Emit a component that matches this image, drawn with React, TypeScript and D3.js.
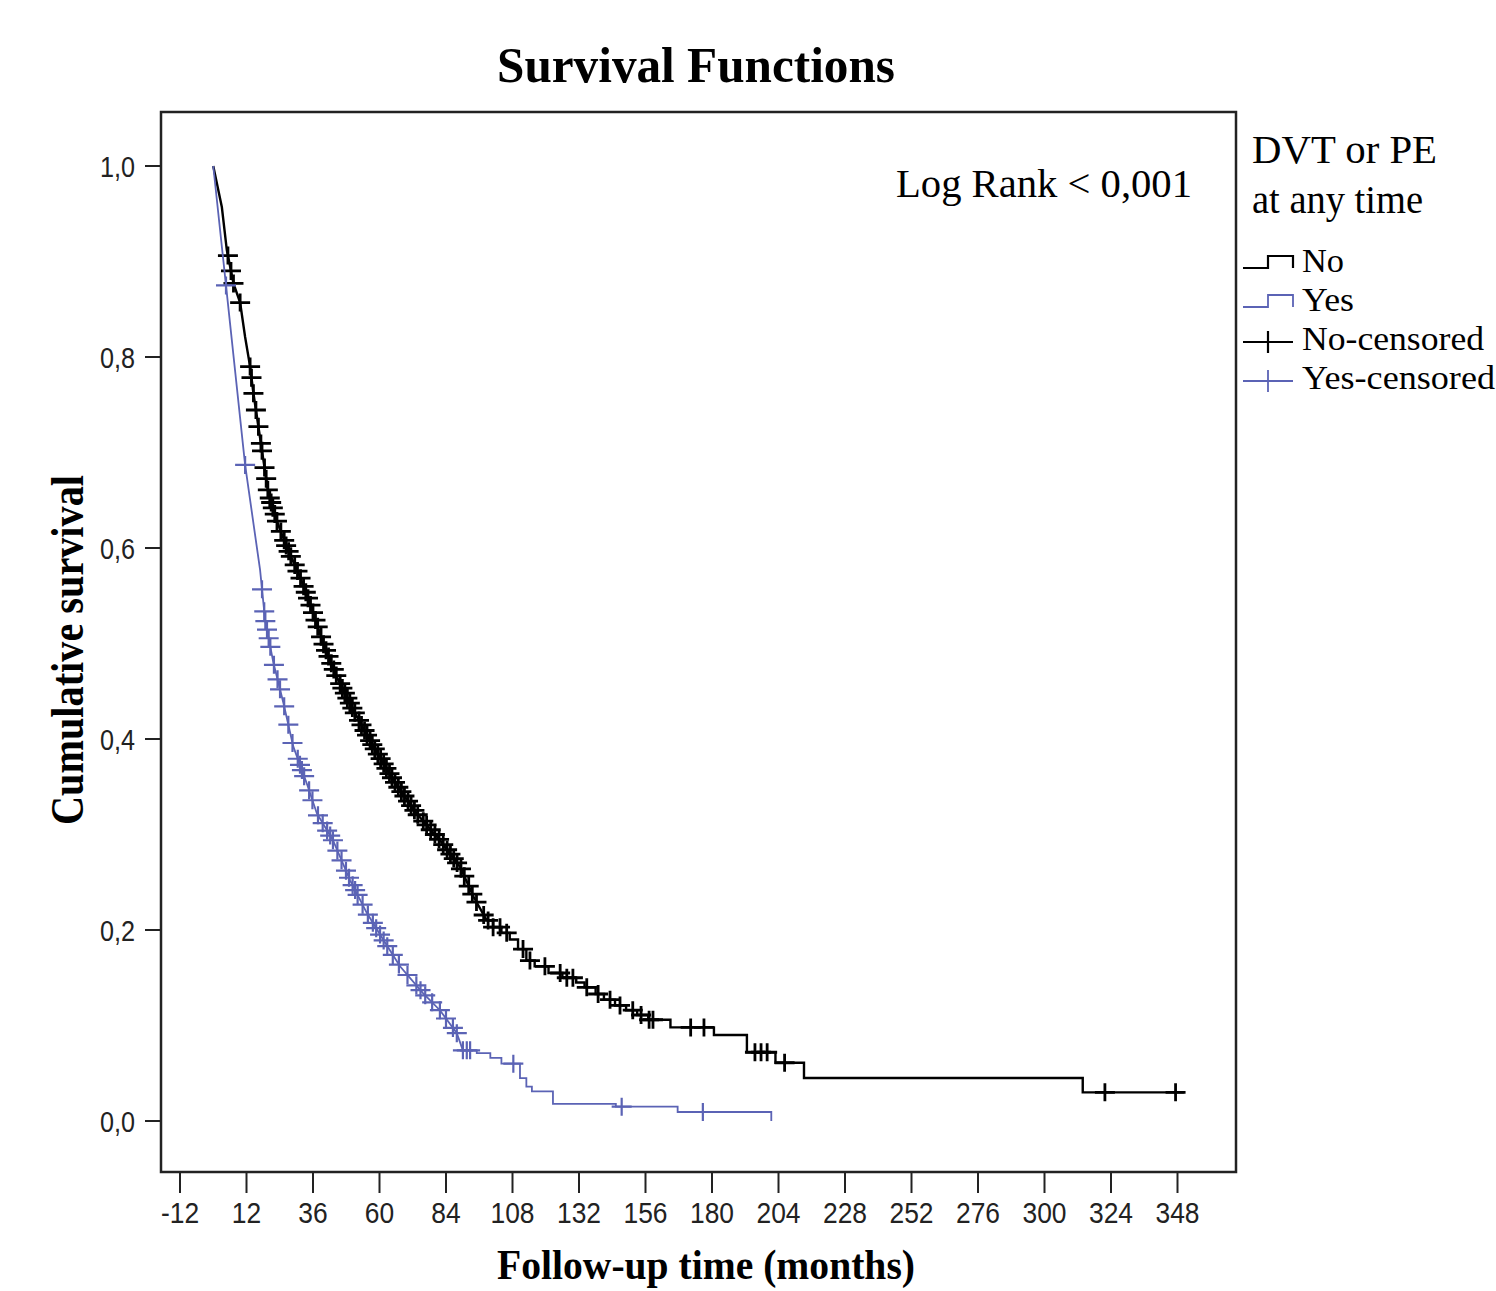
import React, { useEffect, useRef } from 'react';
import * as d3 from 'd3';

const xTicks = [-12, 12, 36, 60, 84, 108, 132, 156, 180, 204, 228, 252, 276, 300, 324, 348];
const yTicks = [0, 0.2, 0.4, 0.6, 0.8, 1.0];

// No group: dense early part (tiny steps, reads as a line), then visible steps. [months, survival]
const noDense: [number, number][] = [
  [0, 1.0], [3.1, 0.957], [4.9, 0.912], [7.3, 0.877], [9.7, 0.857], [11.5, 0.821], [13.3, 0.79],
  [14.5, 0.762], [16.3, 0.727], [18.1, 0.692], [19.9, 0.657], [22.9, 0.629], [26.5, 0.601],
  [31.3, 0.57], [34.9, 0.542], [39.7, 0.5], [44.6, 0.465], [50.6, 0.43], [57.8, 0.392],
  [65.0, 0.357], [73.4, 0.322], [81.8, 0.294], [89.1, 0.266], [93.9, 0.235], [98.7, 0.21]
];
const noSteps: [number, number][] = [
  [101, 0.203], [104, 0.197], [107, 0.19], [110, 0.18], [113, 0.168], [116, 0.162], [121, 0.155],
  [126, 0.15], [131, 0.145], [134, 0.14], [138, 0.133], [141, 0.127], [145, 0.121], [149, 0.116],
  [153, 0.111], [157, 0.106], [165, 0.098], [180.7, 0.09], [192.6, 0.072], [202.9, 0.061],
  [213.2, 0.045], [313.8, 0.03]
];
const noEnd = 350.3;
const noCensored = [
  5.3, 6.4, 7.3, 9.7, 13.3, 13.8, 14.5, 15.4, 16.3, 17.2, 17.6, 18.5, 19.1, 19.7, 20.4, 20.9, 21.5,
  22.2, 23.0, 24.4, 25.6, 26.3, 27.2, 28.0, 29.4, 30.4, 31.5, 32.6, 33.4, 34.2, 35.1, 36.0, 36.9,
  37.7, 38.9, 39.8, 40.7, 41.6, 42.6, 43.5, 44.4, 45.8, 46.6, 47.5, 48.4, 49.3, 50.2, 51.1, 52.6,
  53.5, 54.6, 55.5, 56.6, 57.4, 58.3, 59.4, 60.4, 61.5, 62.5, 63.6, 64.5, 65.6, 66.8, 67.9, 69.0,
  70.3, 71.4, 72.6, 73.8, 75.8, 77.0, 78.5, 80.0, 81.5, 83.0, 84.4, 85.6, 86.8, 88.0, 89.4, 90.6,
  92.2, 93.5, 95.0, 97.6, 99.2, 101.0, 103.5, 105.9, 111.8, 114.3, 119.7, 125.2, 127.6, 129.8,
  134.8, 138.9, 143.2, 146.8, 151.4, 154.4, 157.3, 158.7, 172.3, 177.1, 195.5, 197.7, 199.9,
  206.2, 321.8, 347.3
];

// Yes group
const yesDense: [number, number][] = [
  [0, 1.0], [4.6, 0.875], [11.5, 0.687], [16.9, 0.577], [18.7, 0.525], [21.7, 0.48], [25.3, 0.438],
  [28.9, 0.392], [33.7, 0.354], [37.4, 0.322], [43.2, 0.294], [49.4, 0.252], [55.4, 0.218],
  [61.3, 0.19], [67.4, 0.162], [75.7, 0.134], [81.8, 0.116], [87.9, 0.092], [90.1, 0.074]
];
const yesSteps: [number, number][] = [
  [95.1, 0.071], [100, 0.066], [104, 0.06], [110.7, 0.045], [113, 0.036], [115, 0.031],
  [122.6, 0.018], [145.3, 0.015], [167.6, 0.0094], [201.4, 0]
];
const yesEnd = 201.4;
const yesCensored = [
  4.6, 11.5, 17.6, 18.4, 18.8, 19.4, 20.0, 20.6, 21.9, 23.2, 24.1, 25.6, 27.1, 28.6, 30.5, 31.3,
  32.0, 32.8, 34.6, 35.8, 37.8, 39.5, 41.1, 42.2, 43.2, 44.8, 46.3, 47.9, 49.0, 50.3, 51.2, 52.1,
  53.9, 55.8, 57.6, 58.8, 60.2, 61.5, 62.8, 64.8, 67.0, 70.1, 73.3, 74.8, 76.5, 79.0, 81.8, 84.0,
  86.5, 87.9, 90.1, 91.5, 92.7, 108.3, 147.4, 176.7
];

const legendItems = ['No', 'Yes', 'No-censored', 'Yes-censored'];

const BLACK = '#000000';
const BLUE = '#5b63b5';
const SERIF = '"Liberation Serif", "Times New Roman", serif';
const SANS = '"Liberation Sans", Arial, sans-serif';

const survivalAt = (t: number, dense: [number, number][], steps: [number, number][]) => {
  const last = dense[dense.length - 1];
  if (t <= last[0]) {
    for (let i = 0; i < dense.length - 1; i++) {
      const a = dense[i], b = dense[i + 1];
      if (t >= a[0] && t <= b[0]) return a[1] + (b[1] - a[1]) * (t - a[0]) / (b[0] - a[0]);
    }
  }
  let s = last[1];
  steps.forEach(st => { if (st[0] <= t) s = st[1]; });
  return s;
};

const App = () => {
  const svgRef = useRef<SVGSVGElement>(null);

  useEffect(() => {
    const svg = d3.select(svgRef.current);
    svg.selectAll('*').remove();

    const frame = { left: 161, right: 1236, top: 112, bottom: 1172 };
    const x = d3.scaleLinear().domain([-12, 348]).range([180, 1177.5]);
    const y = d3.scaleLinear().domain([0, 1]).range([1121, 166]);

    const text = (px: number, py: number, str: string, size: number, opts: any = {}) => {
      const t = svg.append('text')
        .attr('x', px).attr('y', py)
        .attr('font-family', opts.family || SERIF)
        .attr('font-size', size)
        .attr('font-weight', opts.weight || 'normal')
        .attr('text-anchor', opts.anchor || 'start')
        .attr('fill', '#000')
        .text(str);
      if (opts.len) t.attr('textLength', opts.len).attr('lengthAdjust', 'spacingAndGlyphs');
      if (opts.transform) t.attr('transform', opts.transform);
      return t;
    };

    // frame
    svg.append('rect')
      .attr('x', frame.left).attr('y', frame.top)
      .attr('width', frame.right - frame.left).attr('height', frame.bottom - frame.top)
      .attr('fill', 'none').attr('stroke', '#222').attr('stroke-width', 2.5);

    // x axis ticks
    xTicks.forEach(v => {
      svg.append('line')
        .attr('x1', x(v)).attr('x2', x(v))
        .attr('y1', frame.bottom).attr('y2', frame.bottom + 21)
        .attr('stroke', '#222').attr('stroke-width', 2);
      svg.append('text')
        .attr('transform', `translate(${x(v)},1223) scale(0.88,1)`)
        .attr('font-family', SANS).attr('font-size', 30)
        .attr('text-anchor', 'middle').attr('fill', '#222')
        .text(v);
    });

    // y axis ticks
    yTicks.forEach(v => {
      svg.append('line')
        .attr('x1', frame.left - 16).attr('x2', frame.left)
        .attr('y1', y(v)).attr('y2', y(v))
        .attr('stroke', '#222').attr('stroke-width', 2);
      svg.append('text')
        .attr('transform', `translate(135,${y(v) + 11}) scale(0.84,1)`)
        .attr('font-family', SANS).attr('font-size', 30)
        .attr('text-anchor', 'end').attr('fill', '#222')
        .text(d3.format('.1f')(v).replace('.', ','));
    });

    // curves
    const lin = d3.line<[number, number]>().x(d => x(d[0])).y(d => y(d[1]));
    const step = d3.line<[number, number]>().x(d => x(d[0])).y(d => y(d[1])).curve(d3.curveStepAfter);

    const drawGroup = (dense: [number, number][], steps: [number, number][], end: number,
                       cens: number[], color: string, w: number) => {
      svg.append('path').attr('d', lin(dense))
        .attr('fill', 'none').attr('stroke', color).attr('stroke-width', w);
      const tail: [number, number][] = [dense[dense.length - 1], ...steps, [end, steps[steps.length - 1][1]]];
      svg.append('path').attr('d', step(tail))
        .attr('fill', 'none').attr('stroke', color).attr('stroke-width', w);
      svg.append('g').selectAll('path')
        .data(cens)
        .join('path')
        .attr('d', t => {
          const cx = x(t), cy = y(survivalAt(t, dense, steps));
          return `M${cx - 10},${cy}h20M${cx},${cy - 9}v18`;
        })
        .attr('fill', 'none').attr('stroke', color).attr('stroke-width', w + 0.4);
    };

    drawGroup(noDense, noSteps, noEnd, noCensored, BLACK, 2.4);
    drawGroup(yesDense, yesSteps, yesEnd, yesCensored, BLUE, 1.8);

    // titles
    text(696, 82, 'Survival Functions', 50, { weight: 'bold', anchor: 'middle', len: 398 });
    text(706, 1279, 'Follow-up time (months)', 42, { weight: 'bold', anchor: 'middle', len: 418 });
    text(0, 0, 'Cumulative survival', 46, {
      weight: 'bold', anchor: 'middle', len: 350, transform: 'translate(83,650) rotate(-90)'
    });
    text(1192, 197, 'Log Rank < 0,001', 40, { anchor: 'end', len: 296 });

    // legend
    text(1252, 163, 'DVT or PE', 40, { len: 185 });
    text(1252, 213, 'at any time', 40, { len: 171 });
    const lx0 = 1243, lx1 = 1293, lxm = 1268;
    const rowY = [272, 311, 350, 389];
    const widths = [42, 52, 182, 193];
    legendItems.forEach((label, i) => {
      const color = i % 2 === 0 ? BLACK : BLUE;
      const by = rowY[i] - 8;
      if (i < 2) {
        svg.append('path')
          .attr('d', `M${lx0},${by + 4}H${lxm}V${by - 8}H${lx1}V${by + 4}`)
          .attr('fill', 'none').attr('stroke', color).attr('stroke-width', i === 0 ? 2.2 : 1.8);
      } else {
        svg.append('path')
          .attr('d', `M${lx0},${by}H${lx1}M${lxm},${by - 11}V${by + 11}`)
          .attr('fill', 'none').attr('stroke', color).attr('stroke-width', i === 2 ? 2.2 : 1.8);
      }
      text(1302, rowY[i], label, 34, { len: widths[i] });
    });
  }, []);

  return (
    <svg ref={svgRef} width={1496} height={1291}
      style={{ position: 'absolute', left: 0, top: 0, background: '#fff' }} />
  );
};

export default App;
